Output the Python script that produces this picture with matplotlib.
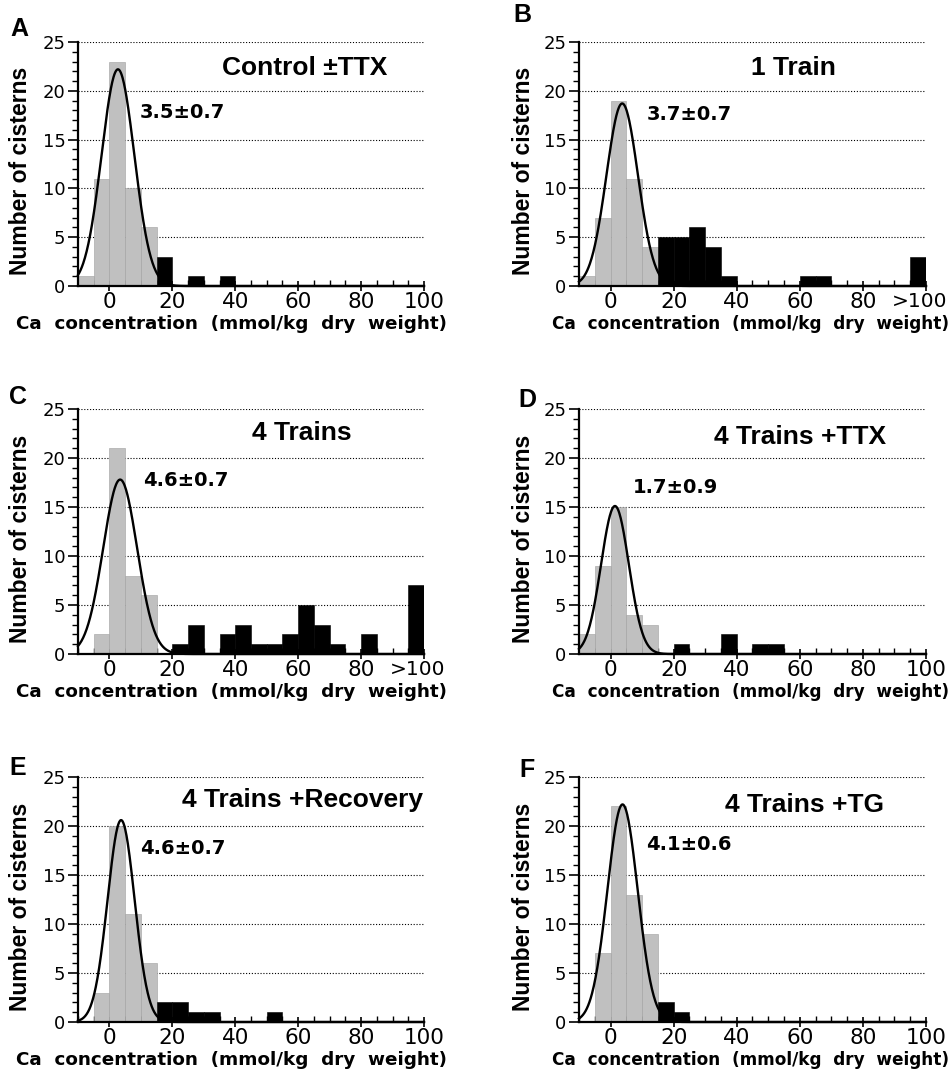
import numpy as np
import matplotlib
matplotlib.use("Agg")
import matplotlib.pyplot as plt
from matplotlib.ticker import MultipleLocator, FixedLocator
from matplotlib.transforms import ScaledTranslation

# ---------------- data ----------------
bin_lefts = [-10, -5, 0, 5, 10, 15, 20, 25, 30, 35, 40, 45, 50, 55, 60, 65, 70, 75, 80, 85, 90, 95]

counts_A = [1, 11, 23, 10, 6, 3, 0, 1, 0, 1, 0, 0, 0, 0, 0, 0, 0, 0, 0, 0, 0, 0]
counts_B = [1, 7, 19, 11, 4, 5, 5, 6, 4, 1, 0, 0, 0, 0, 1, 1, 0, 0, 0, 0, 0, 3]
counts_C = [0, 2, 21, 8, 6, 0, 1, 3, 0, 2, 3, 1, 1, 2, 5, 3, 1, 0, 2, 0, 0, 7]
counts_D = [2, 9, 15, 4, 3, 0, 1, 0, 0, 2, 0, 1, 1, 0, 0, 0, 0, 0, 0, 0, 0, 0]
counts_E = [0, 3, 20, 11, 6, 2, 2, 1, 1, 0, 0, 0, 1, 0, 0, 0, 0, 0, 0, 0, 0, 0]
counts_F = [0, 7, 22, 13, 9, 2, 1, 0, 0, 0, 0, 0, 0, 0, 0, 0, 0, 0, 0, 0, 0, 0]

# gaussian fits: (peak height, centre, sigma)
fit_A = (22.2, 2.7, 5.2)
fit_B = (18.7, 3.7, 5.0)
fit_C = (17.8, 3.4, 5.4)
fit_D = (15.1, 1.4, 4.4)
fit_E = (20.6, 3.7, 4.3)
fit_F = (22.2, 3.8, 4.8)

panel_letters = ["A", "B", "C", "D", "E", "F"]
titles = ["Control \u00b1TTX", "1 Train", "4 Trains", "4 Trains +TTX",
          "4 Trains +Recovery", "4 Trains +TG"]
mean_labels = ["3.5\u00b10.7", "3.7\u00b10.7", "4.6\u00b10.7", "1.7\u00b10.9",
               "4.6\u00b10.7", "4.1\u00b10.6"]
xtick_values = [0, 20, 40, 60, 80, 100]
xtick_labels_plain = ["0", "20", "40", "60", "80", "100"]
xtick_labels_over = ["0", "20", "40", "60", "80", ">100"]
ytick_values = [0, 5, 10, 15, 20, 25]
xlabel = "Ca  concentration  (mmol/kg  dry  weight)"
ylabel = "Number of cisterns"

all_counts = [counts_A, counts_B, counts_C, counts_D, counts_E, counts_F]
all_fits = [fit_A, fit_B, fit_C, fit_D, fit_E, fit_F]
over_flags = [False, True, True, False, False, False]

# ---------------- layout ----------------
W, H = 953, 1070
fig = plt.figure(figsize=(W / 100, H / 100), dpi=100)

col_left_px = [78, 579]
col_right_px = [424, 926]
row_top_px = [42, 409, 777]
row_bot_px = [286, 654, 1022]

title_pos = [(305, 68), (793, 68), (302, 433), (800, 437), (302, 800), (805, 805)]
mean_pos = [(140, 112), (647, 115), (143, 480), (633, 488), (140, 848), (646, 845)]
letter_pos = [(19, 29), (522, 15), (18, 397), (527, 400), (18, 768), (527, 770)]
xlabel_cx = [232, 751]
xlabel_size = [13.2, 12.2]

GRAY = "#c0c0c0"
split = 15

for i in range(6):
    r, c = divmod(i, 2)
    l = col_left_px[c] / W
    w = (col_right_px[c] - col_left_px[c]) / W
    b = 1 - row_bot_px[r] / H
    h = (row_bot_px[r] - row_top_px[r]) / H
    ax = fig.add_axes([l, b, w, h])

    counts = all_counts[i]
    colors = [GRAY if x < split else "black" for x in bin_lefts]
    ax.bar(bin_lefts, counts, width=5, align="edge", color=colors,
           edgecolor=[("#a0a0a0" if x < split else "black") for x in bin_lefts],
           linewidth=0.4, zorder=2)

    pk, mu, sg = all_fits[i]
    xs = np.linspace(-10, 100, 800)
    ax.plot(xs, pk * np.exp(-(xs - mu) ** 2 / (2 * sg ** 2)), color="black",
            lw=1.7, zorder=3, clip_on=False)

    ax.set_xlim(-10, 100)
    ax.set_ylim(0, 25)

    for yv in ytick_values[1:]:
        ax.axhline(yv, color="black", lw=0.8, ls=(0, (1, 1.6)), zorder=1)

    for s in ["top", "right"]:
        ax.spines[s].set_visible(False)
    for s in ["left", "bottom"]:
        ax.spines[s].set_linewidth(1.6)
        ax.spines[s].set_zorder(4)

    ax.yaxis.set_major_locator(FixedLocator(ytick_values))
    ax.yaxis.set_minor_locator(MultipleLocator(1))
    ax.set_yticklabels([str(v) for v in ytick_values], fontsize=13,
                       family="DejaVu Sans")
    ax.tick_params(axis="y", which="major", direction="out", length=7, width=1.2, pad=2)
    ax.tick_params(axis="y", which="minor", direction="out", length=4, width=1.0)

    ax.xaxis.set_major_locator(FixedLocator(xtick_values))
    ax.xaxis.set_minor_locator(MultipleLocator(5))
    ax.set_xticklabels(xtick_labels_over if over_flags[i] else xtick_labels_plain,
                       fontsize=15.5, family="DejaVu Sans")
    ax.tick_params(axis="x", which="major", direction="inout", length=7, width=1.2, pad=1)
    ax.tick_params(axis="x", which="minor", direction="in", length=4, width=1.0)
    if over_flags[i]:
        last = ax.get_xticklabels()[-1]
        last.set_fontsize(14.5)
        last.set_transform(last.get_transform() +
                           ScaledTranslation(-6 / 100, 0, fig.dpi_scale_trans))

    ax.set_xlabel(xlabel, fontsize=xlabel_size[c], fontweight="bold",
                  family="DejaVu Sans")
    ax.xaxis.set_label_coords((xlabel_cx[c] - col_left_px[c]) /
                              (col_right_px[c] - col_left_px[c]), -0.12)
    ax.set_ylabel(ylabel, fontsize=16.5, fontweight="bold", family="Liberation Sans")
    ax.yaxis.set_label_coords(-0.133 if c == 0 else -0.127, 0.47)

    tx, ty = title_pos[i]
    fig.text(tx / W, 1 - ty / H, titles[i], fontsize=19, fontweight="bold",
             family="Liberation Sans", ha="center", va="center")
    mx, my = mean_pos[i]
    fig.text(mx / W, 1 - my / H, mean_labels[i], fontsize=14, fontweight="bold",
             family="DejaVu Sans", ha="left", va="center")
    lx, ly = letter_pos[i]
    fig.text(lx / W, 1 - ly / H, panel_letters[i], fontsize=18, fontweight="bold",
             family="Liberation Sans", ha="center", va="center")

fig.savefig("out.png", dpi=100, facecolor="white")
